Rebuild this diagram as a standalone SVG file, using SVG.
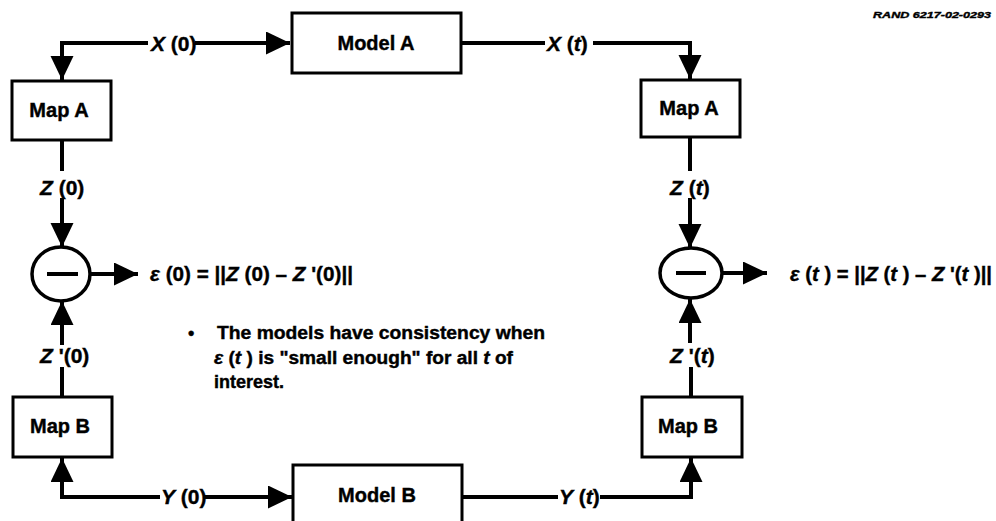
<svg xmlns="http://www.w3.org/2000/svg" width="996" height="521" viewBox="0 0 996 521">
<style>
text{font-family:"Liberation Sans",Arial,sans-serif;font-weight:bold;fill:#000;stroke:#000;stroke-width:0.4}
.box{fill:#fff;stroke:#000;stroke-width:3}
.ln{fill:none;stroke:#000;stroke-width:4}
.ell{fill:#fff;stroke:#000;stroke-width:3.5}
.lbl{font-size:21px}
.bx{font-size:20px}
.eq{font-size:20px}
.bl{font-size:18px}
.i{font-style:italic}
</style>
<defs>
<marker id="ah" markerUnits="userSpaceOnUse" markerWidth="26" markerHeight="24" refX="24" refY="11.5" orient="auto">
<path d="M0,0 L24,11.5 L0,23 z" fill="#000"/>
</marker>
</defs>
<rect width="996" height="521" fill="#fff"/>

<g id="connectors">
<path class="ln" d="M148,43 H62 V80" marker-end="url(#ah)"/>
<path class="ln" d="M195,43 H290" marker-end="url(#ah)"/>
<path class="ln" d="M461,43 H545"/>
<path class="ln" d="M593,43 H690 V79" marker-end="url(#ah)"/>
<path class="ln" d="M62,140 V171"/>
<path class="ln" d="M62,198 V247" marker-end="url(#ah)"/>
<path class="ln" d="M91,274 H138" marker-end="url(#ah)"/>
<path class="ln" d="M62,345 V301" marker-end="url(#ah)"/>
<path class="ln" d="M62,367 V397"/>
<path class="ln" d="M160,497 H62 V458" marker-end="url(#ah)"/>
<path class="ln" d="M203,497 H292" marker-end="url(#ah)"/>
<path class="ln" d="M462,497 H558"/>
<path class="ln" d="M600,497 H691 V458" marker-end="url(#ah)"/>
<path class="ln" d="M690,137 V171"/>
<path class="ln" d="M690,198 V248" marker-end="url(#ah)"/>
<path class="ln" d="M722,273 H767" marker-end="url(#ah)"/>
<path class="ln" d="M690,343 V299" marker-end="url(#ah)"/>
<path class="ln" d="M691,367 V397"/>
</g>

<g id="modelA"><rect class="box" x="292" y="13" width="169" height="60"/><text class="bx" x="376" y="50" text-anchor="middle">Model A</text></g>
<g id="modelB"><rect class="box" x="293" y="465" width="169" height="70"/><text class="bx" x="377" y="502" text-anchor="middle">Model B</text></g>
<g id="mapA0"><rect class="box" x="12" y="81" width="99" height="59"/><text class="bx" x="59" y="117" text-anchor="middle">Map A</text></g>
<g id="mapAt"><rect class="box" x="641" y="80" width="99" height="57"/><text class="bx" x="689" y="115" text-anchor="middle">Map A</text></g>
<g id="mapB0"><rect class="box" x="13" y="397" width="99" height="60"/><text class="bx" x="60" y="433" text-anchor="middle">Map B</text></g>
<g id="mapBt"><rect class="box" x="642" y="397" width="100" height="60"/><text class="bx" x="688" y="433" text-anchor="middle">Map B</text></g>

<g id="diff0"><ellipse class="ell" cx="61" cy="274" rx="29" ry="27"/><line x1="47" y1="274" x2="78" y2="274" stroke="#000" stroke-width="4"/></g>
<g id="difft"><ellipse class="ell" cx="691" cy="273" rx="31" ry="25"/><line x1="676" y1="273" x2="706" y2="273" stroke="#000" stroke-width="4"/></g>

<g id="labels">
<text class="lbl" x="151" y="51"><tspan class="i">X</tspan> (0)</text>
<text class="lbl" x="547" y="51"><tspan class="i">X</tspan> (<tspan class="i">t</tspan>)</text>
<text class="lbl" x="40" y="195"><tspan class="i">Z</tspan> (0)</text>
<text class="lbl" x="670" y="195"><tspan class="i">Z</tspan> (<tspan class="i">t</tspan>)</text>
<text class="lbl" x="40" y="363"><tspan class="i">Z</tspan> '(0)</text>
<text class="lbl" x="670" y="363"><tspan class="i">Z</tspan> '(<tspan class="i">t</tspan>)</text>
<text class="lbl" x="161" y="504"><tspan class="i">Y</tspan> (0)</text>
<text class="lbl" x="559" y="504"><tspan class="i">Y</tspan> (<tspan class="i">t</tspan>)</text>
<text class="eq" x="150" y="281" textLength="203" lengthAdjust="spacingAndGlyphs"><tspan class="i">ε</tspan> (0) = ||<tspan class="i">Z</tspan> (0) – <tspan class="i">Z</tspan> '(0)||</text>
<text class="eq" x="790" y="281" textLength="202" lengthAdjust="spacingAndGlyphs"><tspan class="i">ε</tspan> (<tspan class="i">t</tspan> ) = ||<tspan class="i">Z</tspan> (<tspan class="i">t</tspan> ) – <tspan class="i">Z</tspan> '(<tspan class="i">t</tspan> )||</text>
<text class="bl" x="188" y="339">•</text>
<text class="bl" x="217" y="339" textLength="328" lengthAdjust="spacingAndGlyphs">The models have consistency when</text>
<text class="bl" x="214" y="364" textLength="299" lengthAdjust="spacingAndGlyphs"><tspan class="i">ε</tspan> (<tspan class="i">t</tspan> ) is "small enough" for all <tspan class="i">t</tspan> of</text>
<text class="bl" x="214" y="388">interest.</text>
<text x="873" y="18" style="font-size:9.5px;font-style:italic" textLength="118" lengthAdjust="spacingAndGlyphs">RAND 6217-02-0293</text>
</g>
</svg>
